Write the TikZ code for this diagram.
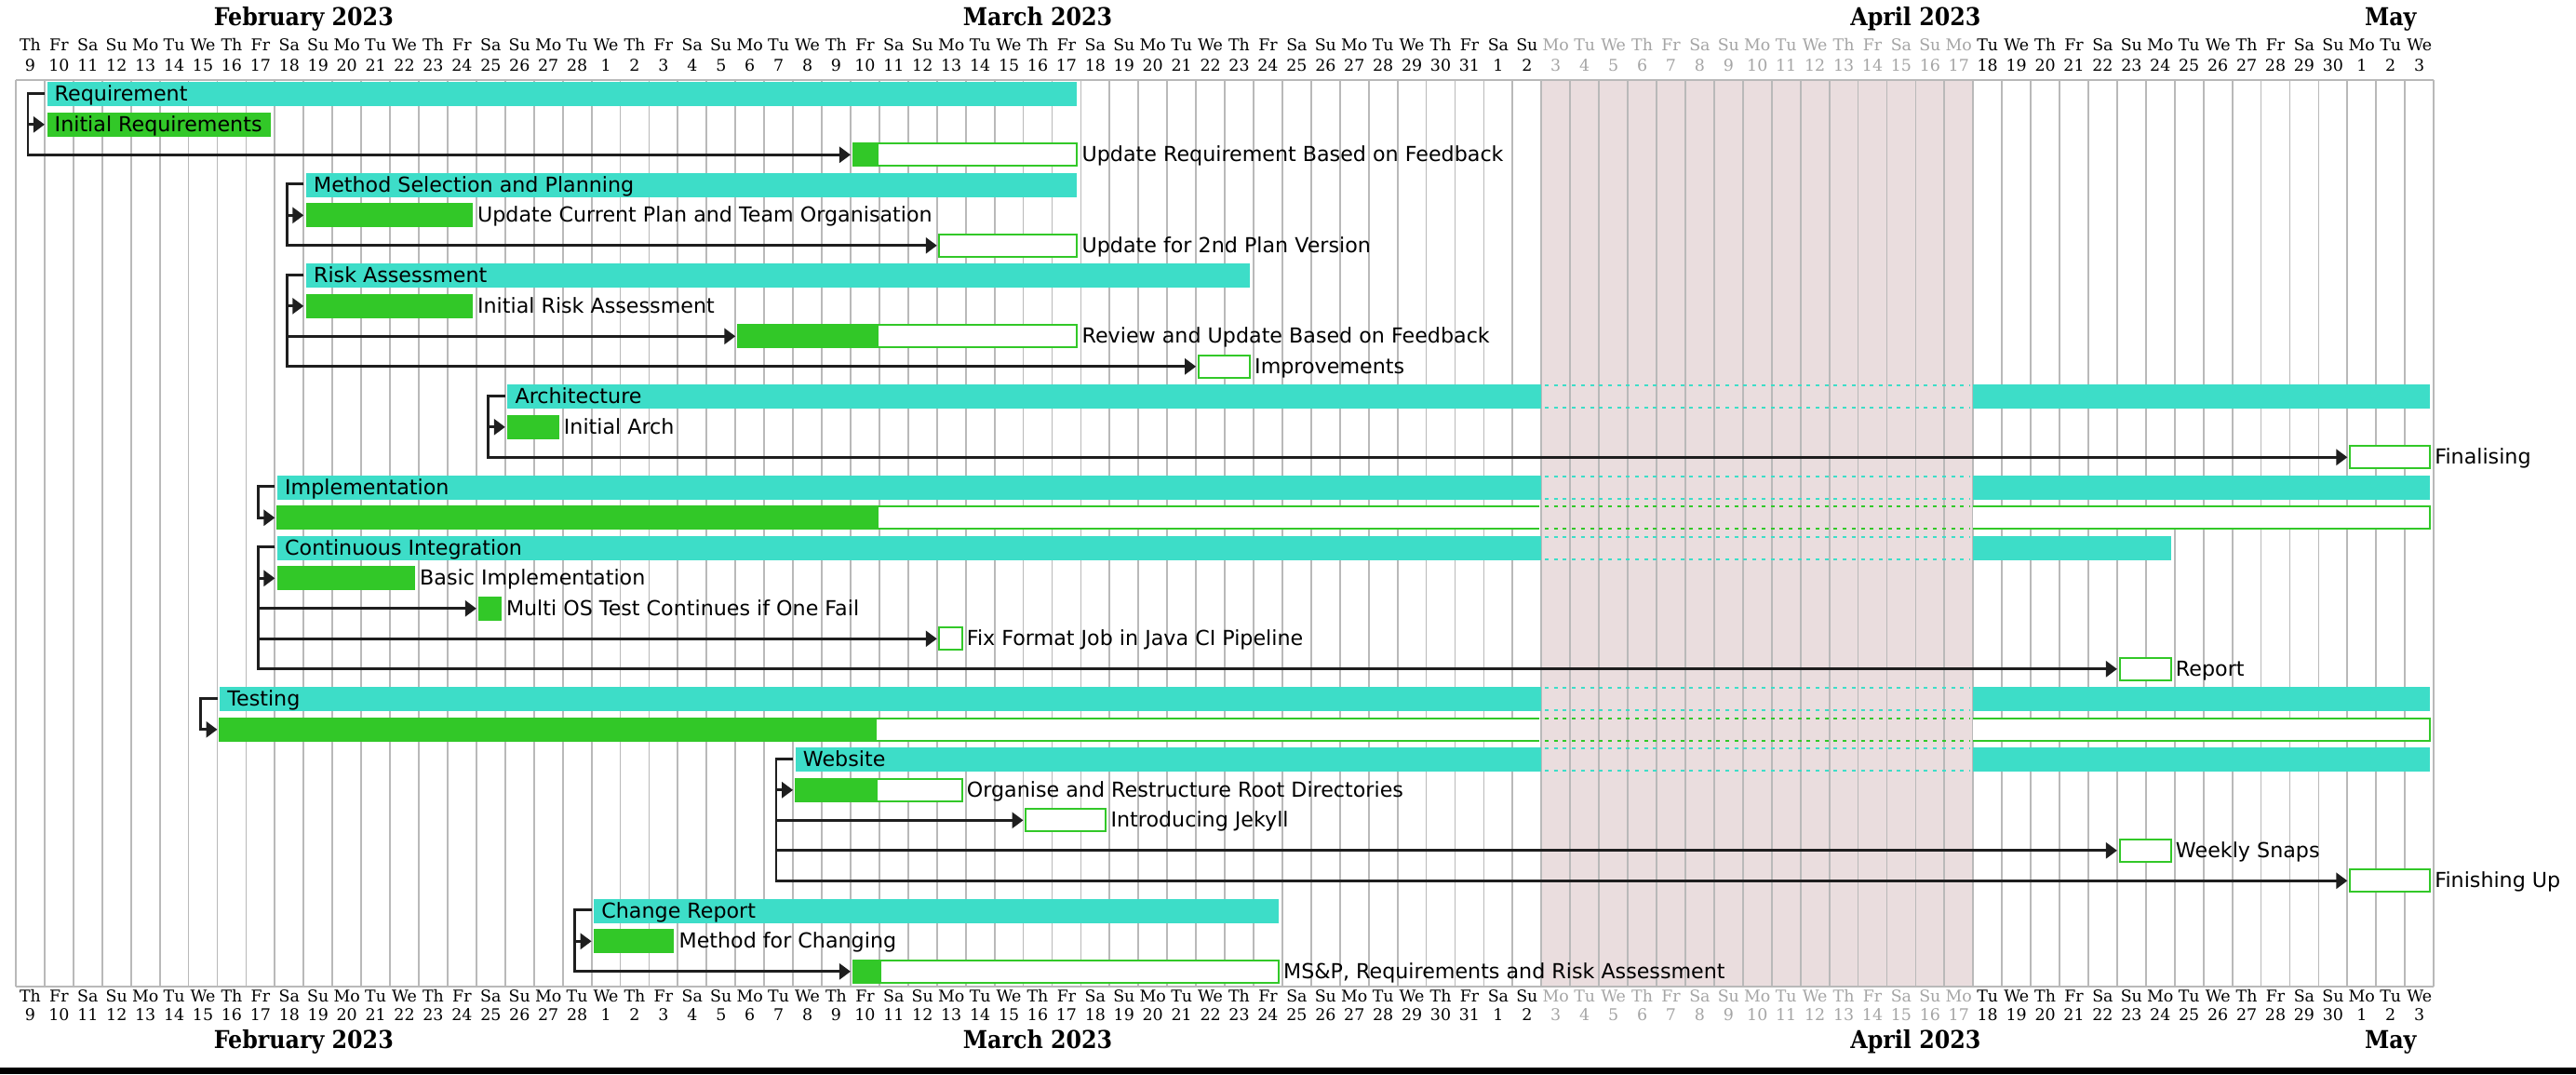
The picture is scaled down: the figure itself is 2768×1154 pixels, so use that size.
\documentclass[tikz,border=0pt]{standalone}
\usepackage{fontspec}
\setmainfont{DejaVu Sans}
\newfontfamily\hdrfont{DejaVu Serif Condensed}
\newfontfamily\dayfont{DejaVu Serif}
\usetikzlibrary{arrows.meta,calc}
\definecolor{cyanbar}{RGB}{61,221,200}
\definecolor{greenbar}{RGB}{50,200,40}
\definecolor{closedbg}{RGB}{234,221,222}
\definecolor{gridc}{RGB}{185,185,185}
\definecolor{greytxt}{RGB}{165,165,165}
\definecolor{depc}{RGB}{30,30,30}
\tikzset{
  cyanbox/.style={fill=cyanbar, draw=none, inner sep=0pt, outer sep=0pt, minimum height=26pt},
  donebox/.style={fill=greenbar, draw=none, inner sep=0pt, outer sep=0pt, minimum height=26pt},
  openbox/.style={fill=white, draw=greenbar, line width=2pt, inner sep=0pt, outer sep=0pt, minimum height=24pt},
  tasklbl/.style={font=\fontsize{22.2}{26}\selectfont, inner sep=0pt, anchor=base west},
  dayname/.style={font=\dayfont\fontsize{17.4}{20}\selectfont, inner sep=0pt, anchor=base},
  monthlbl/.style={font=\hdrfont\bfseries\fontsize{26.4}{30}\selectfont, inner sep=0pt, anchor=base},
  deplink/.style={draw=depc, line width=2.7pt, -{Triangle[length=12pt,width=17pt]}},
  gridline/.style={draw=gridc, line width=1.8pt},
  cyandots/.style={draw=cyanbar, line width=1.8pt, dash pattern=on 4pt off 5.7pt},
  greendots/.style={draw=greenbar, line width=1.8pt, dash pattern=on 4pt off 5.7pt},
}
\newcommand\taskbar[5]{%
  \pgfmathsetmacro\bxs{17+#2*30.93+2.6}%
  \pgfmathsetmacro\bxe{17+(#3+1)*30.93-4}%
  \pgfmathsetmacro\barw{\bxe-\bxs}%
  \pgfmathsetmacro\byy{101.3+32.5*#4}%
  \node[#5, minimum width=\barw pt, anchor=west] (#1) at (\bxs,\byy) {};%
}
\newcommand\ptaskbar[5]{%
  \taskbar{#1}{#2}{#3}{#4}{openbox}%
  \fill[greenbar] (\bxs-1,\byy-13) rectangle (#5,\byy+13);%
}
\newcommand\splitcyan[4]{%
  \pgfmathsetmacro\bxs{17+#2*30.93+2.6}%
  \pgfmathsetmacro\bxe{17+(#3+1)*30.93-4}%
  \pgfmathsetmacro\byy{101.3+32.5*#4}%
  \pgfmathsetmacro\barw{1656.3-\bxs}%
  \pgfmathsetmacro\barwb{\bxe-2120.2}%
  \node[cyanbox, minimum width=\barw pt, anchor=west] (#1) at (\bxs,\byy) {};%
  \node[cyanbox, minimum width=\barwb pt, anchor=west] (#1-b) at (2120.2,\byy) {};%
  \draw[cyandots] (1660,\byy-12) -- (2117,\byy-12);%
  \draw[cyandots] (1660,\byy+12) -- (2117,\byy+12);%
}
\newcommand\splitgreen[4]{%
  \pgfmathsetmacro\bxs{17+#2*30.93+2.6}%
  \pgfmathsetmacro\bxe{17+84*30.93-4}%
  \pgfmathsetmacro\byy{101.3+32.5*#3}%
  \pgfmathsetmacro\barw{1654-\bxs}%
  \node[fill=white, inner sep=0pt, outer sep=0pt, minimum height=24pt, minimum width=\barw pt, anchor=west] (#1) at (\bxs,\byy) {};%
  \fill[greenbar] (\bxs-1,\byy-13) rectangle (#4,\byy+13);%
  \draw[greenbar, line width=2pt] (1654,\byy-12) -- (\bxs,\byy-12) -- (\bxs,\byy+12) -- (1654,\byy+12);%
  \draw[greenbar, line width=2pt, fill=white] (2120.2,\byy-12) -- (\bxe,\byy-12) -- (\bxe,\byy+12) -- (2120.2,\byy+12);%
  \draw[greendots] (1660,\byy-12) -- (2117,\byy-12);%
  \draw[greendots] (1660,\byy+12) -- (2117,\byy+12);%
}
\newcommand\inlbl[2]{\node[tasklbl] (#1-l) at ($(#1.west)+(8,7.5)$) {#2};}
\newcommand\outlbl[2]{\node[tasklbl] (#1-l) at ($(#1.east)+(5,7.5)$) {#2};}
\newcommand\deparrow[2]{\draw[deplink] ($(#1.west)+(-2.6,-1)$) -- ++(-18,0) |- ($(#2.west)+(-2.6,0)$);}
\begin{document}
\begin{tikzpicture}[x=1pt,y=-1pt]
\useasboundingbox (0,0) rectangle (2768,1154);
\fill[white] (0,0) rectangle (2768,1154);
% closed days
\fill[closedbg] (1656.3,86) rectangle (2120.2,1060);
% grid
\foreach \i in {0,...,84}{\draw[gridline] ({17+\i*30.93},86) -- ({17+\i*30.93},1060);}
\draw[gridc, line width=2.5pt] (17,86) -- (2615.1,86);
\draw[gridc, line width=2.5pt] (17,1060) -- (2615.1,1060);
% header / footer day labels
\foreach \i in {0,...,83}{
  \pgfmathsetmacro\cx{17+(\i+0.5)*30.93}
  \pgfmathparse{{"Mo","Tu","We","Th","Fr","Sa","Su"}[mod(\i+3,7)]}\let\dname\pgfmathresult
  \pgfmathtruncatemacro\dnum{\i<20 ? \i+9 : (\i<51 ? \i-19 : (\i<81 ? \i-50 : \i-80))}
  \pgfmathtruncatemacro\isclosed{(\i>52 && \i<68) ? 1 : 0}
  \ifnum\isclosed=1 \def\dcol{greytxt}\else\def\dcol{black}\fi
  \node[dayname, text=\dcol] (dnt\i) at (\cx,54) {\dname};
  \node[dayname, text=\dcol] (dmt\i) at (\cx,76) {\dnum};
  \node[dayname, text=\dcol] (dnb\i) at (\cx,1076.5) {\dname};
  \node[dayname, text=\dcol] (dmb\i) at (\cx,1096) {\dnum};
}
\node[monthlbl] (mfebt) at ({17+10*30.93},27) {February 2023};
\node[monthlbl] (mmart) at ({17+35.5*30.93},27) {March 2023};
\node[monthlbl] (maprt) at ({17+66*30.93},27) {April 2023};
\node[monthlbl] (mmayt) at ({17+82.5*30.93},27) {May};
\node[monthlbl] (mfebb) at ({17+10*30.93},1126) {February 2023};
\node[monthlbl] (mmarb) at ({17+35.5*30.93},1126) {March 2023};
\node[monthlbl] (maprb) at ({17+66*30.93},1126) {April 2023};
\node[monthlbl] (mmayb) at ({17+82.5*30.93},1126) {May};
% bars
\taskbar{req}{1}{36}{0}{cyanbox}
\taskbar{ireq}{1}{8}{1}{donebox}
\ptaskbar{ureq}{29}{36}{2}{944.3}
\taskbar{msp}{10}{36}{3}{cyanbox}
\taskbar{ucp}{10}{15}{4}{donebox}
\taskbar{utp}{32}{36}{5}{openbox}
\taskbar{risk}{10}{42}{6}{cyanbox}
\taskbar{ira}{10}{15}{7}{donebox}
\ptaskbar{rub}{25}{36}{8}{944}
\taskbar{impr}{41}{42}{9}{openbox}
\splitcyan{arch}{17}{83}{10}
\taskbar{iarch}{17}{18}{11}{donebox}
\taskbar{fin}{81}{83}{12}{openbox}
\splitcyan{impl}{9}{83}{13}
\splitgreen{implw}{9}{14}{944}
\splitcyan{ci}{9}{74}{15}
\taskbar{basic}{9}{13}{16}{donebox}
\taskbar{mos}{16}{16}{17}{donebox}
\taskbar{ffj}{32}{32}{18}{openbox}
\taskbar{rep}{73}{74}{19}{openbox}
\splitcyan{test}{7}{83}{20}
\splitgreen{testw}{7}{21}{942}
\splitcyan{web}{27}{83}{22}
\ptaskbar{org}{27}{32}{23}{943.3}
\taskbar{jek}{35}{37}{24}{openbox}
\taskbar{snap}{73}{74}{25}{openbox}
\taskbar{fup}{81}{83}{26}{openbox}
\taskbar{chr}{20}{43}{27}{cyanbox}
\taskbar{mfc}{20}{22}{28}{donebox}
\ptaskbar{msr}{29}{43}{29}{946.7}
% labels
\inlbl{req}{Requirement}
\inlbl{ireq}{Initial Requirements}
\outlbl{ureq}{Update Requirement Based on Feedback}
\inlbl{msp}{Method Selection and Planning}
\outlbl{ucp}{Update Current Plan and Team Organisation}
\outlbl{utp}{Update for 2nd Plan Version}
\inlbl{risk}{Risk Assessment}
\outlbl{ira}{Initial Risk Assessment}
\outlbl{rub}{Review and Update Based on Feedback}
\outlbl{impr}{Improvements}
\inlbl{arch}{Architecture}
\outlbl{iarch}{Initial Arch}
\outlbl{fin}{Finalising}
\inlbl{impl}{Implementation}
\inlbl{ci}{Continuous Integration}
\outlbl{basic}{Basic Implementation}
\outlbl{mos}{Multi OS Test Continues if One Fail}
\outlbl{ffj}{Fix Format Job in Java CI Pipeline}
\outlbl{rep}{Report}
\inlbl{test}{Testing}
\inlbl{web}{Website}
\outlbl{org}{Organise and Restructure Root Directories}
\outlbl{jek}{Introducing Jekyll}
\outlbl{snap}{Weekly Snaps}
\outlbl{fup}{Finishing Up}
\inlbl{chr}{Change Report}
\outlbl{mfc}{Method for Changing}
\outlbl{msr}{MS\&P, Requirements and Risk Assessment}
% dependencies
\deparrow{req}{ireq}
\deparrow{req}{ureq}
\deparrow{msp}{ucp}
\deparrow{msp}{utp}
\deparrow{risk}{ira}
\deparrow{risk}{rub}
\deparrow{risk}{impr}
\deparrow{arch}{iarch}
\deparrow{arch}{fin}
\deparrow{impl}{implw}
\deparrow{ci}{basic}
\deparrow{ci}{mos}
\deparrow{ci}{ffj}
\deparrow{ci}{rep}
\deparrow{test}{testw}
\deparrow{web}{org}
\deparrow{web}{jek}
\deparrow{web}{snap}
\deparrow{web}{fup}
\deparrow{chr}{mfc}
\deparrow{chr}{msr}
% bottom strip
\fill[black] (0,1147) rectangle (2768,1154);
\end{tikzpicture}
\end{document}
